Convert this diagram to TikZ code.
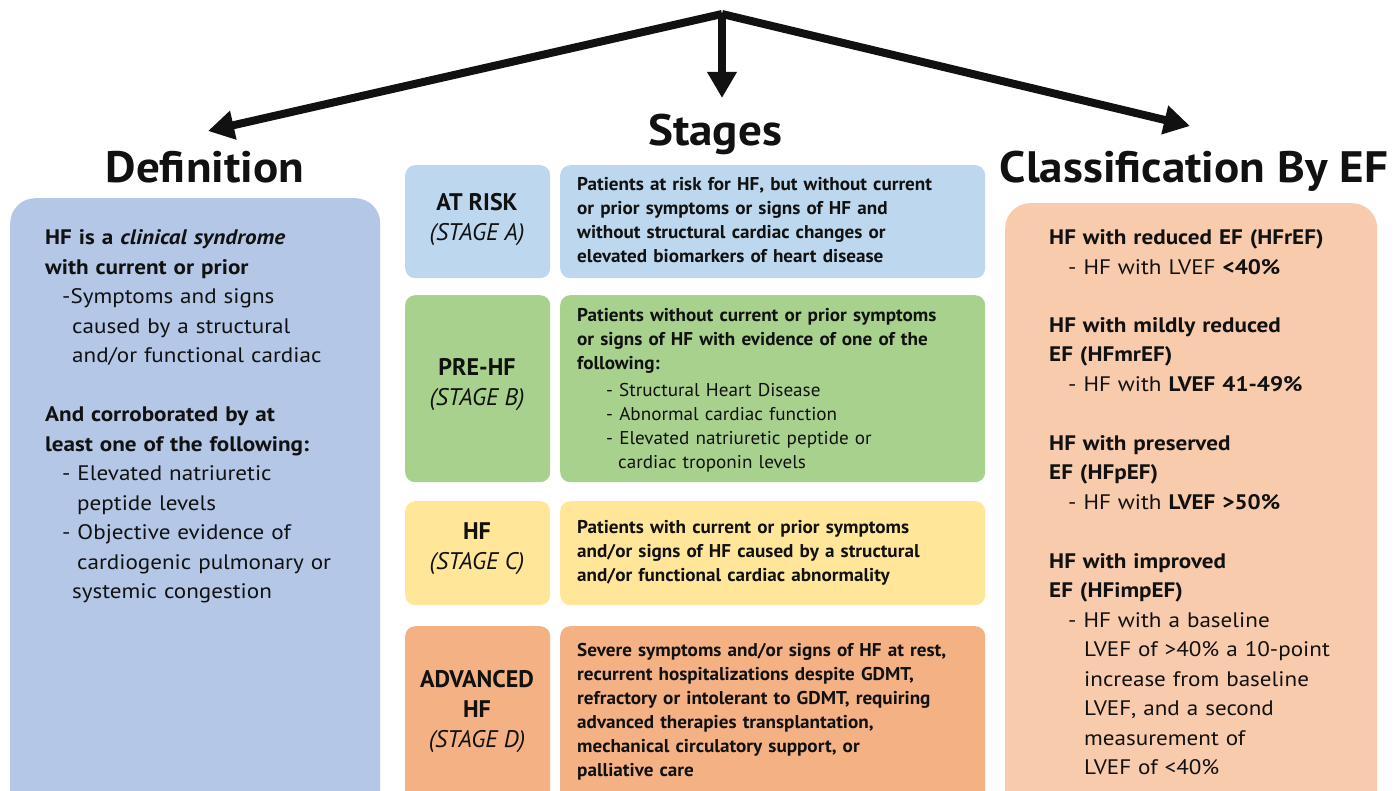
\documentclass[tikz,border=0pt]{standalone}
\usepackage{fontspec}
\setmainfont{PT Sans}[FakeStretch=1.1]
\newfontfamily\descfont[FakeStretch=1.035]{PT Sans}
\newfontfamily\lblfont[FakeStretch=1.0]{PT Sans}
\newfontfamily\hdrfont[FakeStretch=1.07]{PT Sans}
\usetikzlibrary{arrows.meta}
\definecolor{defblue}{HTML}{B4C7E7}
\definecolor{stA}{HTML}{BDD7EE}
\definecolor{stB}{HTML}{A9D18E}
\definecolor{stC}{HTML}{FFE699}
\definecolor{stD}{HTML}{F4B183}
\definecolor{clsbg}{HTML}{F8CBAD}
\definecolor{ink}{HTML}{111111}
\tikzset{
  box/.style={anchor=north west, inner sep=0pt, rounded corners=#1, draw=none},
  hdr/.style={anchor=base, inner sep=0pt, text=ink, font=\hdrfont\fontsize{44}{50}\selectfont\bfseries},
  bigtxt/.style={anchor=base west, inner sep=0pt, text=ink, align=left, text width=330pt, font=\fontsize{21}{29.5}\selectfont},
  sttxt/.style={anchor=base west, inner sep=0pt, text=ink, align=left, text width=410pt, font=\descfont\fontsize{18.5}{24}\selectfont},
  stlbl/.style={anchor=center, inner sep=0pt, text=ink, align=center, font=\lblfont\fontsize{24}{30}\selectfont},
  bigarrow/.style={line width=8pt, ink, -{Triangle[length=26pt,width=28pt]}}
}
\begin{document}
\begin{tikzpicture}[x=1pt,y=-1pt]
\useasboundingbox (0,0) rectangle (1397,791);
\clip (0,0) rectangle (1397,791);
% boxes
\node[box=25pt, fill=defblue, minimum width=370pt, minimum height=620pt] (defbox) at (10,198) {};
\node[box=10pt, fill=stA, minimum width=145pt, minimum height=113pt] (lblA) at (405,165) {};
\node[box=10pt, fill=stA, minimum width=425pt, minimum height=113pt] (dscA) at (560,165) {};
\node[box=10pt, fill=stB, minimum width=145pt, minimum height=187pt] (lblB) at (405,295) {};
\node[box=10pt, fill=stB, minimum width=425pt, minimum height=187pt] (dscB) at (560,295) {};
\node[box=10pt, fill=stC, minimum width=145pt, minimum height=104pt] (lblC) at (405,501) {};
\node[box=10pt, fill=stC, minimum width=425pt, minimum height=104pt] (dscC) at (560,501) {};
\node[box=10pt, fill=stD, minimum width=145pt, minimum height=190pt] (lblD) at (405,626) {};
\node[box=10pt, fill=stD, minimum width=425pt, minimum height=190pt] (dscD) at (560,626) {};
\node[box=25pt, fill=clsbg, minimum width=372pt, minimum height=620pt] (clsbox) at (1005,203) {};
% headers
\node[hdr] (defhdr) at (205,183) {Definition};
\node[hdr] (stghdr) at (715,146) {Stages};
\node[hdr] (clshdr) at (1194,183) {Classification By EF};
% arrows
\coordinate (apex) at (722,14);
\coordinate (ltip) at (208,131);
\coordinate (mtip) at (722,98);
\coordinate (rtip) at (1190,126);
\draw[bigarrow, line join=miter] (apex) -- (ltip);
\draw[bigarrow, line join=miter] (apex) -- (rtip);
\draw[bigarrow] (apex) -- (mtip);
% definition text
\node[bigtxt] (deftxt) at (45,245) {%
\textbf{HF is a \textit{clinical syndrome}}\\
\textbf{with current or prior}\\
\hspace*{17pt}-Symptoms and signs\\
\hspace*{27pt}caused by a structural\\
\hspace*{27pt}and/or functional cardiac\\[29.5pt]
\textbf{And corroborated by at}\\
\textbf{least one of the following:}\\
\hspace*{17pt}- Elevated natriuretic\\
\hspace*{32pt}peptide levels\\
\hspace*{17pt}- Objective evidence of\\
\hspace*{32pt}cardiogenic pulmonary or\\
\hspace*{27pt}systemic congestion};
% stage labels
\node[stlbl] (labA) at (477,220) {\textbf{AT RISK}\\\textit{(STAGE A)}};
\node[stlbl] (labB) at (477,385) {\textbf{PRE-HF}\\\textit{(STAGE B)}};
\node[stlbl] (labC) at (477,549) {\textbf{HF}\\\textit{(STAGE C)}};
\node[stlbl] (labD) at (477,712) {\textbf{ADVANCED}\\\textbf{HF}\\\textit{(STAGE D)}};
% stage descriptions
\node[sttxt] (txtA) at (577,191) {\bfseries Patients at risk for HF, but without current\\
or prior symptoms or signs of HF and\\
without structural cardiac changes or\\
elevated biomarkers of heart disease};
\node[sttxt] (txtB) at (577,322) {\textbf{Patients without current or prior symptoms}\\
\textbf{or signs of HF with evidence of one of the}\\
\textbf{following:}\\[3pt]
\hspace*{29pt}- Structural Heart Disease\\
\hspace*{29pt}- Abnormal cardiac function\\
\hspace*{29pt}- Elevated natriuretic peptide or\\
\hspace*{41pt}cardiac troponin levels};
\node[sttxt] (txtC) at (577,533) {\bfseries Patients with current or prior symptoms\\
and/or signs of HF caused by a structural\\
and/or functional cardiac abnormality};
\node[sttxt] (txtD) at (577,656) {\bfseries Severe symptoms and/or signs of HF at rest,\\
recurrent hospitalizations despite GDMT,\\
refractory or intolerant to GDMT, requiring\\
advanced therapies transplantation,\\
mechanical circulatory support, or\\
palliative care};
% classification text
\node[bigtxt] (clstxt) at (1049,245) {%
\textbf{HF with reduced EF (HFrEF)}\\
\hspace*{19pt}- HF with LVEF \textbf{<40\%}\\[28.5pt]
\textbf{HF with mildly reduced}\\
\textbf{EF (HFmrEF)}\\
\hspace*{19pt}- HF with \textbf{LVEF 41-49\%}\\[29.5pt]
\textbf{HF with preserved}\\
\textbf{EF (HFpEF)}\\
\hspace*{19pt}- HF with \textbf{LVEF >50\%}\\[29.5pt]
\textbf{HF with improved}\\
\textbf{EF (HFimpEF)}\\
\hspace*{19pt}- HF with a baseline\\
\hspace*{35pt}LVEF of >40\% a 10-point\\
\hspace*{35pt}increase from baseline\\
\hspace*{35pt}LVEF, and a second\\
\hspace*{35pt}measurement of\\
\hspace*{35pt}LVEF of <40\%};
\end{tikzpicture}
\end{document}
